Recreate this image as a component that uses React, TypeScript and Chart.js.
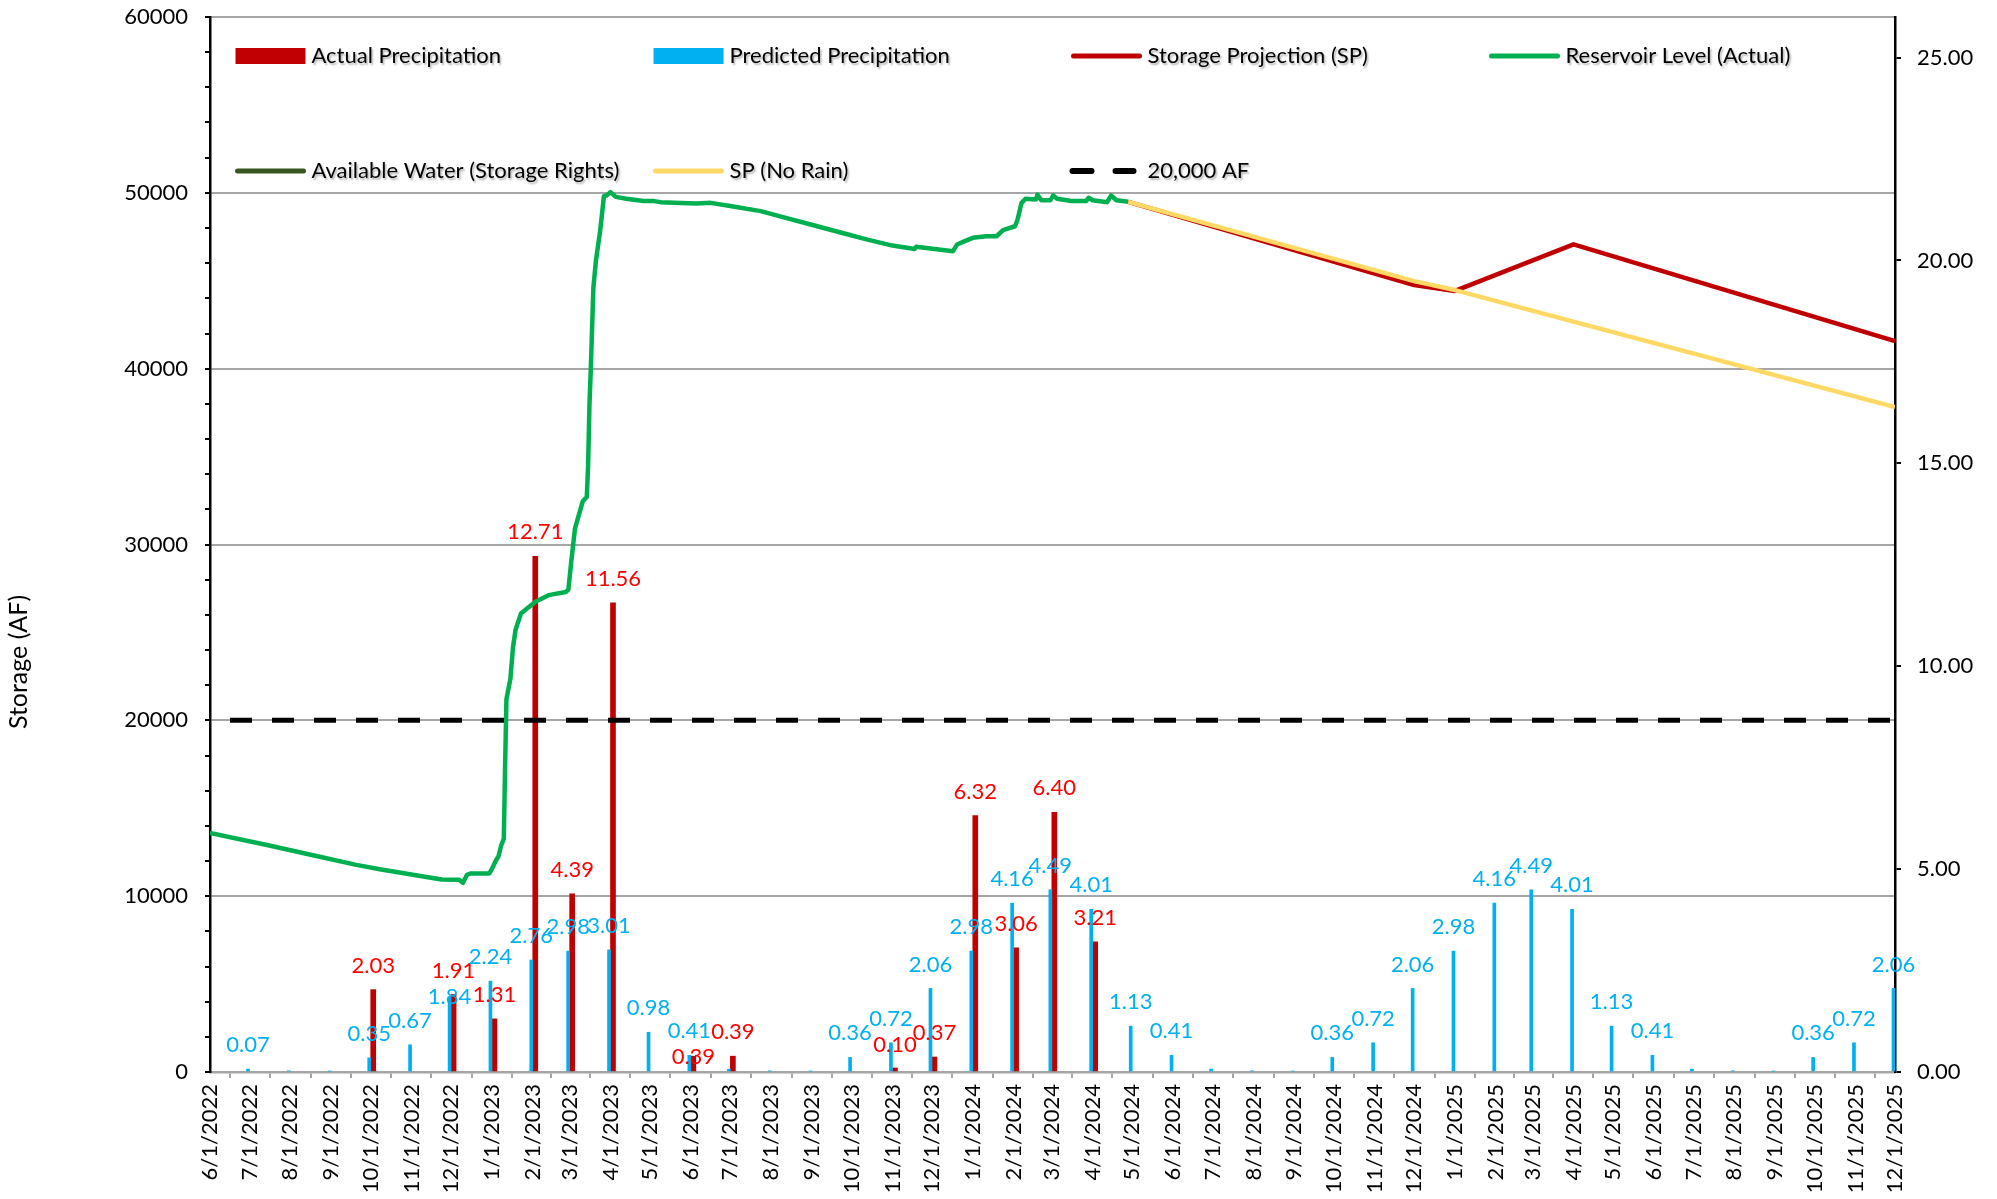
import React, { useEffect, useRef } from 'react';
import { Chart, registerables } from 'chart.js';

Chart.register(...registerables);

const FONT = 'Lato, "Open Sans", sans-serif';

// ---------- DATA ----------
const monthLabels = [
  '6/1/2022', '7/1/2022', '8/1/2022', '9/1/2022', '10/1/2022', '11/1/2022', '12/1/2022',
  '1/1/2023', '2/1/2023', '3/1/2023', '4/1/2023', '5/1/2023', '6/1/2023', '7/1/2023', '8/1/2023', '9/1/2023', '10/1/2023', '11/1/2023', '12/1/2023',
  '1/1/2024', '2/1/2024', '3/1/2024', '4/1/2024', '5/1/2024', '6/1/2024', '7/1/2024', '8/1/2024', '9/1/2024', '10/1/2024', '11/1/2024', '12/1/2024',
  '1/1/2025', '2/1/2025', '3/1/2025', '4/1/2025', '5/1/2025', '6/1/2025', '7/1/2025', '8/1/2025', '9/1/2025', '10/1/2025', '11/1/2025', '12/1/2025',
];

const predictedPrecip: (number | null)[] = [
  null, 0.07, 0.03, 0.02, 0.35, 0.67, 1.84,
  2.24, 2.76, 2.98, 3.01, 0.98, 0.41, 0.07, 0.03, 0.02, 0.36, 0.72, 2.06,
  2.98, 4.16, 4.49, 4.01, 1.13, 0.41, 0.07, 0.03, 0.02, 0.36, 0.72, 2.06,
  2.98, 4.16, 4.49, 4.01, 1.13, 0.41, 0.07, 0.03, 0.02, 0.36, 0.72, 2.06,
];

const predictedLabelShown: boolean[] = [
  false, true, false, false, true, true, true,
  true, true, true, true, true, true, false, false, false, true, true, true,
  true, true, true, true, true, true, false, false, false, true, true, true,
  true, true, true, true, true, true, false, false, false, true, true, true,
];

const actualPrecip: (number | null)[] = [
  null, null, null, null, 2.03, null, 1.91,
  1.31, 12.71, 4.39, 11.56, null, 0.39, 0.39, null, null, null, 0.10, 0.37,
  6.32, 3.06, 6.40, 3.21, null, null, null, null, null, null, null, null,
  null, null, null, null, null, null, null, null, null, null, null, null,
];

const reservoirDates = [
  '6/1/2022', '7/16/2022', '8/19/2022', '9/20/2022', '10/9/2022', '11/10/2022', '11/24/2022',
  '12/7/2022', '12/10/2022', '12/13/2022', '12/16/2022', '12/30/2022', '1/1/2023', '1/4/2023',
  '1/6/2023', '1/8/2023', '1/10/2023', '1/11/2023', '1/12/2023', '1/15/2023', '1/17/2023',
  '1/19/2023', '1/23/2023', '2/3/2023', '2/13/2023', '2/26/2023', '2/28/2023', '3/2/2023',
  '3/5/2023', '3/11/2023', '3/14/2023', '3/15/2023', '3/16/2023', '3/17/2023', '3/19/2023',
  '3/21/2023', '3/24/2023', '3/27/2023', '3/29/2023', '4/1/2023', '4/5/2023', '4/13/2023',
  '4/26/2023', '5/4/2023', '5/9/2023', '6/5/2023', '6/16/2023', '7/2/2023', '7/24/2023',
  '8/12/2023', '8/31/2023', '9/22/2023', '10/13/2023', '11/1/2023', '11/18/2023', '11/19/2023',
  '12/17/2023', '12/20/2023', '12/26/2023', '1/1/2024', '1/11/2024', '1/19/2024', '1/24/2024',
  '2/2/2024', '2/4/2024', '2/7/2024', '2/10/2024', '2/18/2024', '2/19/2024', '2/22/2024',
  '2/29/2024', '3/2/2024', '3/5/2024', '3/16/2024', '3/27/2024', '3/29/2024', '4/1/2024',
  '4/12/2024', '4/15/2024', '4/19/2024', '4/28/2024',
];
const reservoirLevels = [
  13600, 12880, 12310, 11780, 11520, 11120, 10950,
  10930, 10760, 11210, 11290, 11290, 11550, 12030,
  12270, 12880, 13260, 17400, 21200, 22360, 24160,
  25170, 26070, 26740, 27120, 27300, 27420, 28880,
  30900, 32470, 32700, 34490, 37870, 39890, 44610,
  46180, 47750, 49810, 49850, 50040, 49770, 49660,
  49530, 49530, 49470, 49390, 49430, 49240, 48960,
  48580, 48200, 47760, 47340, 47000, 46810, 46930,
  46680, 47060, 47250, 47440, 47530, 47530, 47880,
  48100, 48480, 49430, 49660, 49620, 49900, 49580,
  49580, 49850, 49660, 49530, 49530, 49720, 49580,
  49470, 49850, 49580, 49490,
];

const projectionDates = ['4/28/2024', '12/1/2024', '1/1/2025', '4/1/2025', '12/1/2025'];
const projectionLevels = [49490, 44750, 44420, 47070, 41570];

const noRainDates = ['4/28/2024', '12/1/2024', '1/1/2025', '12/1/2025'];
const noRainLevels = [49490, 44980, 44470, 37820];

const availableDates: string[] = [];
const availableLevels: number[] = [];

const thresholdDates = ['6/1/2022', '12/1/2025'];
const thresholdLevels = [20000, 20000];

const rightTickValues = [0, 5, 10, 15, 20, 25];

// ---------- HELPERS ----------
const dayOf = (s: string) => {
  const [m, d, y] = s.split('/').map(Number);
  return Math.round((Date.UTC(y, m - 1, d) - Date.UTC(2022, 5, 1)) / 86400000);
};
const pts = (dates: string[], vals: number[]) => dates.map((d, i) => ({ x: dayOf(d), y: vals[i] }));
const barPts = (vals: (number | null)[], shown?: boolean[]) =>
  monthLabels
    .map((m, i) => ({ x: dayOf(m), y: vals[i], showLabel: shown ? shown[i] : true }))
    .filter((p) => p.y !== null);

const LABEL_GAP = 24;
const LABEL_H = 26;

const overlayPlugin = {
  id: 'overlay',
  afterDatasetsDraw(chart: any) {
    const ctx = chart.ctx;
    const items: any[] = [];
    chart.data.datasets.forEach((ds: any, di: number) => {
      if (!ds.barLabelColor) return;
      const meta = chart.getDatasetMeta(di);
      meta.data.forEach((el: any, i: number) => {
        const raw = ds.data[i];
        if (!raw || !raw.showLabel) return;
        items.push({ key: raw.x, x: el.x, y: el.y - LABEL_GAP, text: Number(raw.y).toFixed(2), color: ds.barLabelColor });
      });
    });
    // keep labels of the same month from sitting on top of each other
    const groups = new Map<number, any[]>();
    items.forEach((it) => {
      if (!groups.has(it.key)) groups.set(it.key, []);
      groups.get(it.key)!.push(it);
    });
    groups.forEach((g) => {
      if (g.length === 2) {
        const [a, b] = g[0].y <= g[1].y ? [g[0], g[1]] : [g[1], g[0]];
        if (b.y - a.y < LABEL_H) b.y = a.y + LABEL_H;
      }
    });
    ctx.save();
    ctx.font = `22px ${FONT}`;
    ctx.textAlign = 'center';
    ctx.textBaseline = 'middle';
    items.forEach((it) => {
      ctx.fillStyle = it.color;
      ctx.fillText(it.text, it.x, it.y);
    });
    ctx.restore();
  },
  afterDraw(chart: any) {
    const ctx = chart.ctx;
    const area = chart.chartArea;
    ctx.save();
    // legend
    chart.data.datasets.forEach((ds: any, i: number) => {
      const col = i % 4;
      const row = Math.floor(i / 4);
      const x = area.left + 25.5 + col * 418;
      const yc = area.top + 39 + row * 115;
      ctx.shadowColor = 'rgba(0,0,0,0)';
      if (ds.legendKind === 'box') {
        ctx.fillStyle = ds.backgroundColor;
        ctx.fillRect(x, yc - 8, 70, 16);
      } else if (ds.legendKind === 'line') {
        ctx.strokeStyle = ds.borderColor;
        ctx.lineWidth = 5;
        ctx.lineCap = 'round';
        ctx.beginPath();
        ctx.moveTo(x + 2, yc);
        ctx.lineTo(x + 68, yc);
        ctx.stroke();
      } else {
        ctx.strokeStyle = ds.borderColor;
        ctx.lineWidth = 6;
        ctx.lineCap = 'round';
        ctx.beginPath();
        ctx.moveTo(x + 1, yc);
        ctx.lineTo(x + 20, yc);
        ctx.moveTo(x + 44, yc);
        ctx.lineTo(x + 62, yc);
        ctx.stroke();
      }
      ctx.shadowColor = 'rgba(0,0,0,0.3)';
      ctx.shadowOffsetX = 1.5;
      ctx.shadowOffsetY = 1.5;
      ctx.shadowBlur = 2;
      ctx.fillStyle = '#000';
      ctx.font = `22px ${FONT}`;
      ctx.textAlign = 'left';
      ctx.textBaseline = 'middle';
      ctx.fillText(ds.label, x + 76, yc);
    });
    // y-axis title
    ctx.shadowColor = 'rgba(0,0,0,0)';
    ctx.translate(19, 662);
    ctx.rotate(-Math.PI / 2);
    ctx.fillStyle = '#000';
    ctx.font = `25px ${FONT}`;
    ctx.textAlign = 'center';
    ctx.textBaseline = 'middle';
    ctx.fillText('Storage (AF)', 0, 0);
    ctx.restore();
  },
};

export default function App() {
  const ref = useRef<HTMLCanvasElement>(null);
  useEffect(() => {
    if (!ref.current) return;
    Chart.defaults.font.family = FONT;
    const lastDay = dayOf(monthLabels[monthLabels.length - 1]);
    const chart = new Chart(ref.current, {
      type: 'line',
      data: {
        datasets: [
          {
            type: 'bar', label: 'Actual Precipitation', data: barPts(actualPrecip) as any,
            backgroundColor: '#C00000', borderWidth: 0, barThickness: 5, yAxisID: 'y1', order: 11,
            legendKind: 'box', barLabelColor: '#FF0000',
          } as any,
          {
            type: 'bar', label: 'Predicted Precipitation', data: barPts(predictedPrecip, predictedLabelShown) as any,
            backgroundColor: '#00B0F0', borderWidth: 0, barThickness: 3, yAxisID: 'y1', order: 10,
            legendKind: 'box', barLabelColor: '#00B0F0',
          } as any,
          {
            type: 'line', label: 'Storage Projection (SP)', data: pts(projectionDates, projectionLevels),
            borderColor: '#C00000', borderWidth: 4.5, pointRadius: 0, tension: 0, yAxisID: 'y', order: 3,
            borderJoinStyle: 'round', legendKind: 'line',
          } as any,
          {
            type: 'line', label: 'Reservoir Level (Actual)', data: pts(reservoirDates, reservoirLevels),
            borderColor: '#00B050', borderWidth: 4.5, pointRadius: 0, tension: 0, yAxisID: 'y', order: 4,
            borderJoinStyle: 'round', legendKind: 'line',
          } as any,
          {
            type: 'line', label: 'Available Water (Storage Rights)', data: pts(availableDates, availableLevels),
            borderColor: '#375623', borderWidth: 4.5, pointRadius: 0, yAxisID: 'y', order: 5,
            legendKind: 'line',
          } as any,
          {
            type: 'line', label: 'SP (No Rain)', data: pts(noRainDates, noRainLevels),
            borderColor: '#FFD966', borderWidth: 4.5, pointRadius: 0, tension: 0, yAxisID: 'y', order: 2,
            borderJoinStyle: 'round', legendKind: 'line',
          } as any,
          {
            type: 'line', label: '20,000 AF', data: pts(thresholdDates, thresholdLevels),
            borderColor: '#000000', borderWidth: 5, pointRadius: 0, yAxisID: 'y', order: 1,
            borderDash: [22, 20], borderDashOffset: 22, legendKind: 'dash',
          } as any,
        ],
      },
      options: {
        animation: false,
        responsive: true,
        maintainAspectRatio: false,
        events: [],
        layout: { padding: { top: 17, left: 0, right: 0, bottom: 0 } },
        plugins: { legend: { display: false }, tooltip: { enabled: false } },
        scales: {
          x: {
            type: 'linear',
            min: 0,
            max: lastDay,
            offset: false,
            afterBuildTicks: (s: any) => {
              s.ticks = monthLabels.map((l) => ({ value: dayOf(l) }));
            },
            afterFit: (s: any) => {
              s.height = 127;
              s.paddingLeft = 0;
              s.paddingRight = 0;
            },
            ticks: {
              autoSkip: false,
              minRotation: 90,
              maxRotation: 90,
              padding: 6,
              color: '#000',
              font: { family: FONT, size: 22 },
              callback: (_v: any, i: number) => monthLabels[i],
            },
            grid: { drawOnChartArea: false, drawTicks: true, tickLength: 6, color: '#A6A6A6', lineWidth: 2 },
            border: { display: true, color: '#A6A6A6', width: 2.5 },
          },
          y: {
            position: 'left',
            min: 0,
            max: 60000,
            afterFit: (s: any) => {
              s.width = 210;
              s.paddingTop = 0;
              s.paddingBottom = 0;
            },
            ticks: {
              stepSize: 2000,
              autoSkip: false,
              padding: 17,
              color: '#000',
              font: { family: FONT, size: 22 },
              callback: (v: any) => (Number(v) % 10000 === 0 ? String(v) : ''),
            },
            grid: {
              color: (c: any) => (c.tick && c.tick.value % 10000 === 0 ? '#A6A6A6' : 'rgba(0,0,0,0)'),
              lineWidth: 2,
              tickColor: '#000',
              tickLength: 5,
              tickWidth: 2,
            },
            border: { display: true, color: '#000', width: 2.5 },
          },
          y1: {
            position: 'right',
            min: 0,
            max: 26,
            afterBuildTicks: (s: any) => {
              s.ticks = rightTickValues.map((v) => ({ value: v }));
            },
            afterFit: (s: any) => {
              s.width = 102;
              s.paddingTop = 0;
              s.paddingBottom = 0;
            },
            ticks: {
              autoSkip: false,
              padding: 16,
              color: '#000',
              font: { family: FONT, size: 22 },
              callback: (v: any) => Number(v).toFixed(2),
            },
            grid: { drawOnChartArea: false, tickLength: 6, color: '#000', lineWidth: 2 },
            border: { display: true, color: '#000', width: 2.5 },
          },
        },
      } as any,
      plugins: [overlayPlugin],
    });
    return () => chart.destroy();
  }, []);

  return (
    <div style={{ position: 'fixed', left: 0, top: 0, width: 1997, height: 1199, background: '#fff' }}>
      <canvas ref={ref} />
    </div>
  );
}
